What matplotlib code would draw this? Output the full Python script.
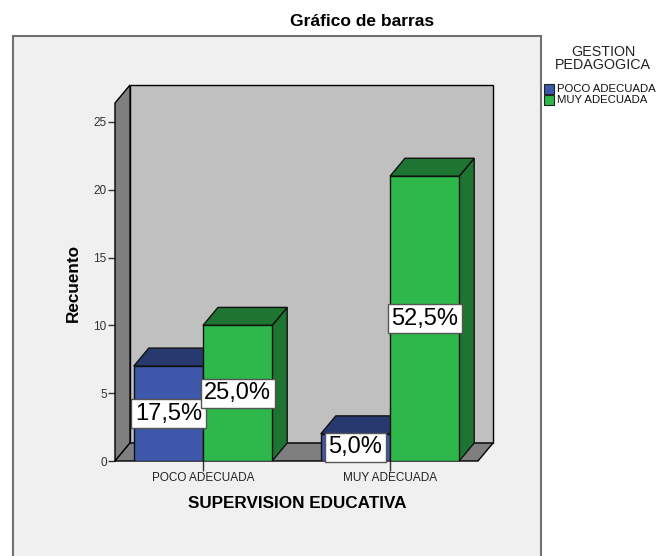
import matplotlib
matplotlib.use("Agg")
import matplotlib.pyplot as plt
from matplotlib.patches import Polygon, Rectangle

plt.rcParams['font.family'] = ['Liberation Sans', 'DejaVu Sans']

# ---- data ----
categories = ["POCO ADECUADA", "MUY ADECUADA"]
series_names = ["POCO ADECUADA", "MUY ADECUADA"]
poco_counts = [7, 2]
muy_counts = [10, 21]
yticks = [0, 5, 10, 15, 20, 25]

title = "Gráfico de barras"
xlabel = "SUPERVISION EDUCATIVA"
ylabel = "Recuento"
legend_title = ["GESTION", "PEDAGOGICA"]

# ---- style ----
front_cols = ["#3d58ab", "#2eb84b"]
dark_cols = ["#27396f", "#1e7431"]
wall_col = "#c0c0c0"
side_col = "#7f7f7f"

W, H = 660, 556
fig = plt.figure(figsize=(W / 100, H / 100), dpi=100)
fig.patch.set_facecolor("white")

# outer light panel
fig.patches.append(Rectangle((13 / W, -0.1), (541 - 13) / W, (H - 36) / H + 0.1,
                             transform=fig.transFigure, facecolor="#f0f0f0",
                             edgecolor="#707070", linewidth=1.5, zorder=-5))

ax = fig.add_axes([115 / W, (H - 461) / H, (500 - 115) / W, (461 - 80) / H])
ax.set_facecolor("none")
sx = 187.0
sy = 13.56
ax.set_xlim(-88 / sx, (500 - 203) / sx)
ax.set_ylim(0, 381 / sy)
DX = 15 / sx
DY = 18 / sy
x0 = -88 / sx
x1 = (478 - 203) / sx
wall_h = 26.4

lw = 1.0
# back wall
ax.add_patch(Polygon([(x0 + DX, DY), (x1 + DX, DY), (x1 + DX, wall_h + DY), (x0 + DX, wall_h + DY)],
                     closed=True, facecolor=wall_col, edgecolor="black", lw=lw, zorder=1, clip_on=False))
# left side wall
ax.add_patch(Polygon([(x0, 0), (x0 + DX, DY), (x0 + DX, wall_h + DY), (x0, wall_h)],
                     closed=True, facecolor=side_col, edgecolor="black", lw=lw, zorder=2, clip_on=False))
# floor
ax.add_patch(Polygon([(x0, 0), (x1, 0), (x1 + DX, DY), (x0 + DX, DY)],
                     closed=True, facecolor=side_col, edgecolor="black", lw=lw, zorder=2, clip_on=False))

bw = 0.37
total = sum(poco_counts) + sum(muy_counts)
z = 3
for i, cat in enumerate(categories):
    for s, vals in enumerate([poco_counts, muy_counts]):
        v = vals[i]
        xl = i + (s - 1) * bw
        xr = xl + bw
        # side face
        ax.add_patch(Polygon([(xr, 0), (xr + DX, DY), (xr + DX, v + DY), (xr, v)], closed=True,
                             facecolor=dark_cols[s], edgecolor="#111111", lw=lw, zorder=z, clip_on=False))
        # top face
        ax.add_patch(Polygon([(xl, v), (xr, v), (xr + DX, v + DY), (xl + DX, v + DY)], closed=True,
                             facecolor=dark_cols[s], edgecolor="#111111", lw=lw, zorder=z, clip_on=False))
        # front face
        ax.bar(xl, v, width=bw, align="edge", color=front_cols[s], edgecolor="#111111",
               linewidth=lw, zorder=z + 0.5)
        z += 1

# percentage labels
for i in range(len(categories)):
    for s, vals in enumerate([poco_counts, muy_counts]):
        v = vals[i]
        xc = i + (s - 1) * bw + bw / 2
        txt = f"{v / total * 100:.1f}%".replace(".", ",")
        ax.text(xc, v / 2, txt, ha="center", va="center", fontsize=17, color="black", zorder=20,
                bbox=dict(boxstyle="square,pad=0.15", facecolor="white", edgecolor="#555555", lw=1))

for sp in ax.spines.values():
    sp.set_visible(False)

ax.set_yticks(yticks)
ax.set_yticklabels([str(t) for t in yticks])
ax.set_xticks(range(len(categories)))
ax.set_xticklabels(categories)
ax.tick_params(axis="y", length=5, width=1, color="#333333", labelsize=8.5, labelcolor="#333333", pad=1)
ax.tick_params(axis="x", length=7, width=1, color="#333333", labelsize=8.5, labelcolor="#222222", pad=1)

ax.set_xlabel(xlabel, fontsize=12.3, fontweight="bold")
ax.xaxis.set_label_coords((297 - 115) / 385, (461 - 503) / 381)
ax.xaxis.label.set_va("center")
ax.set_ylabel(ylabel, fontsize=12.3, fontweight="bold")
ax.yaxis.set_label_coords((73 - 115) / 385, (461 - 283) / 381)
ax.yaxis.label.set_va("center")

fig.text(362 / W, 1 - 21 / H, title, ha="center", va="center", fontsize=12.5, fontweight="bold")

# legend (manual, SPSS style)
fig.text(603 / W, 1 - 52 / H, legend_title[0], ha="center", va="center", fontsize=10.3, color="#222222")
fig.text(603 / W, 1 - 65 / H, legend_title[1], ha="center", va="center", fontsize=10.3, color="#222222")
for k, name in enumerate(series_names):
    yc = 89 + 11 * k
    fig.patches.append(Rectangle((544 / W, 1 - (yc + 5) / H), 10 / W, 10 / H, transform=fig.transFigure,
                                 facecolor=front_cols[k], edgecolor="#222222", lw=0.8))
    fig.text(557 / W, 1 - yc / H, name, ha="left", va="center", fontsize=8.2, color="#111111")

fig.savefig("out.png", dpi=100)
